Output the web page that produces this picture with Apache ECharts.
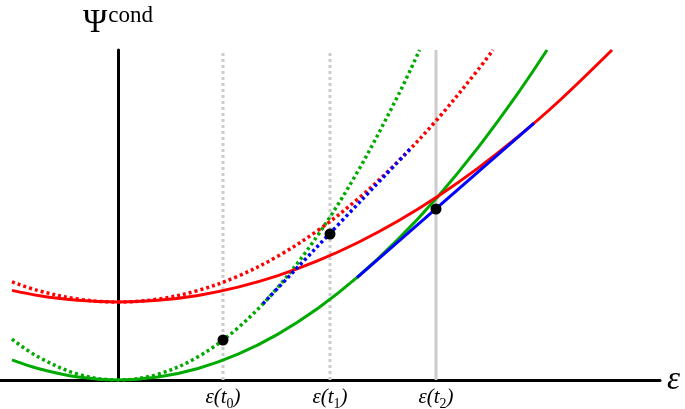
<!DOCTYPE html>
<html>
<head>
<meta charset="utf-8">
<script src="https://cdn.jsdelivr.net/npm/echarts@6/dist/echarts.min.js"></script>
<style>html,body{margin:0;padding:0;background:#fff}#c{width:685px;height:409px}</style>
</head>
<body>
<div id="c"></div>
<script>
// strain positions of the marked times
var tickX = [105, 212, 318];
var tickLabels = ['{m|ε(t}{s|0}{m|)}', '{m|ε(t}{s|1}{m|)}', '{m|ε(t}{s|2}{m|)}'];

// curves: [strain, energy]
var greenSolid = [[-106,20.1],[-80,11.5],[-40,2.9],[0,0],[40,2.9],[80,11.5],[120,25.8],[160,45.9],[200,71.7],[240,103.3],[280,140.6],[320,183.6],[360,232.4],[400,286.9],[429,330]];
var greenDotted = [[-106,40.8],[-80,23.2],[-40,5.8],[0,0],[40,5.8],[80,23.2],[120,52.2],[160,92.9],[200,145.1],[240,209.0],[280,284.4],[301.6,330]];
var redSolid = [[-106,89.6],[-80,84.6],[-40,79.7],[0,78],[40,79.7],[80,84.6],[120,92.9],[160,104.4],[200,119.3],[240,137.5],[280,159.0],[320,183.8],[360,211.9],[400,243.3],[440,278.0],[494,330]];
var redDotted = [[-106,98.1],[-80,89.5],[-40,80.9],[0,78],[40,80.9],[80,89.5],[120,103.8],[160,123.9],[200,149.7],[240,181.2],[280,218.5],[320,261.5],[360,310.2],[375,330]];
var blueSolid = [[239,102.4],[416,256.8]];
var blueDotted = [[145,76.3],[294,232.9]];
var points = [[105,40],[212,146],[318,171]];
var vTop = 330;

var chart = echarts.init(document.getElementById('c'), null, {renderer:'canvas'});
var serif = 'Liberation Serif';
function vline(x, solid) {
  return {
    type:'line', data:[[x,0],[x,vTop]], symbol:'none', silent:true, z:1,
    lineStyle:{color:'#cccccc', width:3, type: solid?'solid':[3,3]}
  };
}
function curve(data, color, dotted, z) {
  return {
    type:'line', data:data, symbol:'none', smooth:0.35, z:z, silent:true,
    lineStyle:{color:color, width: dotted ? 3.5 : 3, type: dotted ? [3,3] : 'solid', cap:'butt'}
  };
}
var option = {
  animation:false,
  grid:{left:0, right:25, top:50, bottom:29, containLabel:false, outerBoundsMode:'none'},
  xAxis:{
    type:'value', min:-118, max:542,
    axisLine:{show:true, onZero:false, lineStyle:{color:'#000', width:3}},
    axisTick:{show:false}, splitLine:{show:false},
    axisLabel:{
      show:true, customValues: tickX, margin:3,
      formatter:function(v){ var i = tickX.indexOf(v); return i>=0 ? tickLabels[i] : ''; },
      color:'#000',
      rich:{
        m:{fontFamily:serif, fontStyle:'italic', fontSize:21, lineHeight:28, color:'#000', verticalAlign:'middle'},
        s:{fontFamily:serif, fontStyle:'normal', fontSize:14, lineHeight:16, color:'#000', verticalAlign:'bottom'}
      }
    },
    name:'ε', nameLocation:'end', nameGap:7,
    nameTextStyle:{fontFamily:serif, fontStyle:'italic', fontSize:33, color:'#000', verticalAlign:'middle', padding:[0,0,6,0]}
  },
  yAxis:{
    type:'value', min:0, max:330,
    axisLine:{show:true, onZero:true, lineStyle:{color:'#000', width:3}},
    axisTick:{show:false}, splitLine:{show:false}, axisLabel:{show:false},
    name:'{p|Ψ}{c|cond}', nameLocation:'end', nameGap:8,
    nameTextStyle:{
      rich:{
        p:{fontFamily:serif, fontSize:33, color:'#000'},
        c:{fontFamily:serif, fontSize:23, color:'#000', padding:[0,0,15,1]}
      }
    }
  },
  series:[
    vline(tickX[0], false), vline(tickX[1], false), vline(tickX[2], true),
    curve(greenDotted, '#00aa00', true, 2),
    curve(redDotted, '#ff0000', true, 3),
    curve(greenSolid, '#00aa00', false, 2),
    curve(redSolid, '#ff0000', false, 3),
    curve(blueDotted, '#0000ff', true, 4),
    curve(blueSolid, '#0000ff', false, 4),
    {type:'scatter', data:points, symbol:'circle', symbolSize:11, itemStyle:{color:'#000', opacity:1}, z:5, silent:true}
  ]
};
chart.setOption(option);
</script>
</body>
</html>
